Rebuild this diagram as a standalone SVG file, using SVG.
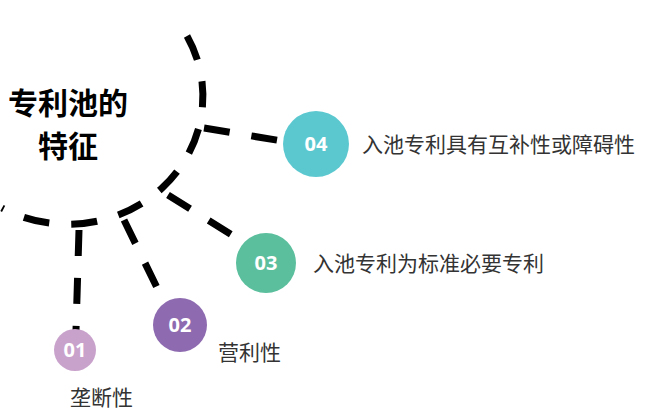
<svg xmlns="http://www.w3.org/2000/svg" width="660" height="420" viewBox="0 0 660 420">
<style>
.d{fill:none;stroke:#000;stroke-width:7;stroke-dasharray:26 22}
.n{font-family:"Open Sans","Liberation Sans",sans-serif;font-weight:bold;font-size:20px;fill:#fff;text-anchor:middle}
.t{font-family:"Noto Sans CJK SC",sans-serif;font-size:21px;fill:#333}
</style>
<rect width="660" height="420" fill="#fff"/>
<g id="connectors">
<path class="d" d="M187,36 A135,128 0 0 1 2,208"/>
<line class="d" x1="204" y1="128" x2="282" y2="141"/>
<line class="d" x1="168" y1="195" x2="240" y2="240"/>
<line class="d" x1="124" y1="220" x2="163" y2="300"/>
<line class="d" x1="79" y1="230" x2="76" y2="330"/>
</g>
<g id="title"><text font-family="Noto Sans CJK SC,sans-serif" font-weight="bold" font-size="30" text-anchor="middle"><tspan x="68" y="114">专利池的</tspan><tspan x="68" y="157">特征</tspan></text></g>
<g id="n04"><circle cx="316" cy="144" r="33" fill="#5bc8d0"/><text class="n" x="316" y="151">04</text><text class="t" x="362" y="152">入池专利具有互补性或障碍性</text></g>
<g id="n03"><circle cx="266" cy="263" r="30" fill="#5bbf9e"/><text class="n" x="266" y="270">03</text><text class="t" x="313" y="271">入池专利为标准必要专利</text></g>
<g id="n02"><circle cx="180" cy="325" r="27" fill="#8e6bb0"/><text class="n" x="180" y="332">02</text><text class="t" x="218" y="360">营利性</text></g>
<g id="n01"><circle cx="75" cy="350" r="21" fill="#c9a2cc"/><text class="n" x="75" y="357" font-size="18">01</text><text class="t" x="70" y="405">垄断性</text></g>
</svg>
